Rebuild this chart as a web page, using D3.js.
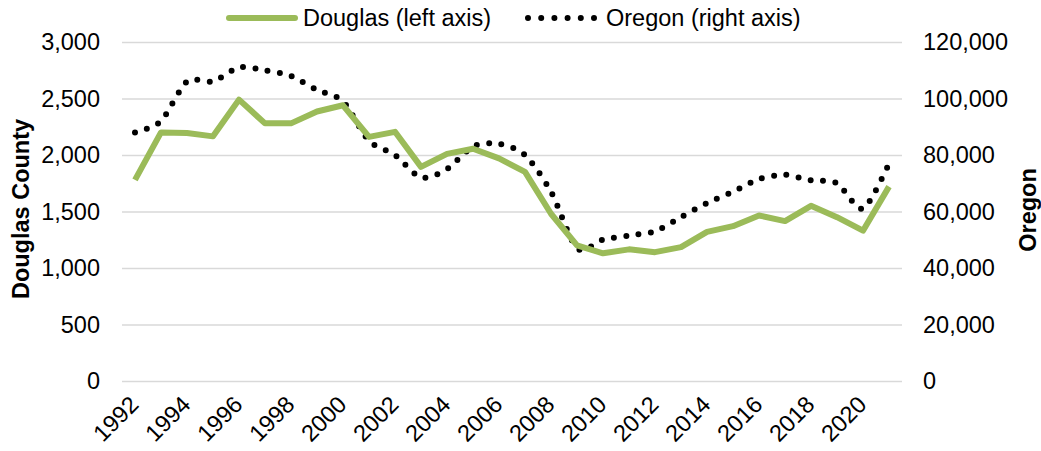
<!DOCTYPE html>
<html>
<head>
<meta charset="utf-8">
<script src="https://cdn.jsdelivr.net/npm/d3@7"></script>
<style>
  body { margin: 0; background: #fff; }
  svg text { font-family: "Liberation Sans", Arial, sans-serif; fill: #000; }
  .axis .domain { display: none; }
</style>
</head>
<body>
<svg id="chart"></svg>
<script>
let years = d3.range(1992, 2022);
let douglas = [1780, 2200, 2195, 2165, 2490, 2280, 2280, 2385, 2440, 2160,
  2205, 1895, 2010, 2055, 1970, 1850, 1480, 1200, 1130, 1165,
  1140, 1185, 1320, 1370, 1465, 1415, 1550, 1450, 1330, 1720];
let oregon = [88000, 92000, 106000, 106000, 111000, 110000, 108000, 103000, 99000, 85000,
  80000, 72000, 75000, 83000, 84000, 80000, 67000, 47000, 50000, 51500,
  53000, 58000, 63000, 67000, 71500, 73000, 71000, 70000, 61000, 77000];
let leftTicks = [0, 500, 1000, 1500, 2000, 2500, 3000];
let rightTicks = [0, 20000, 40000, 60000, 80000, 100000, 120000];
let yearLabels = d3.range(1992, 2022, 2);

let config = {
  svg: { width: 1041, height: 451 },
  plot: { x: 122, y: 42, width: 780, height: 339 },
  font: "23.5px"
};

let svg = d3.select("svg#chart")
  .attr("width", config.svg.width)
  .attr("height", config.svg.height);

let scale = {};
scale.x = d3.scaleBand().domain(years).range([0, config.plot.width]);
scale.yl = d3.scaleLinear().domain([0, 3000]).range([config.plot.height, 0]);
scale.yr = d3.scaleLinear().domain([0, 120000]).range([config.plot.height, 0]);

let cx = d => scale.x(d) + scale.x.bandwidth() / 2;

let plot = svg.append("g")
  .attr("transform", translate(config.plot.x, config.plot.y));

// gridlines
plot.append("g")
  .attr("class", "axis")
  .call(d3.axisLeft(scale.yl).tickValues(leftTicks).tickSize(-config.plot.width).tickFormat(""))
  .selectAll("line")
  .attr("stroke", "#d9d9d9")
  .attr("stroke-width", 1.4);

// left axis labels
let gl = plot.append("g")
  .attr("class", "axis")
  .attr("transform", translate(-22, 0))
  .call(d3.axisLeft(scale.yl).tickValues(leftTicks).tickSize(0).tickPadding(0).tickFormat(d3.format(",")));
gl.selectAll("text").attr("font-size", config.font);

// right axis labels
let gr = plot.append("g")
  .attr("class", "axis")
  .attr("transform", translate(config.plot.width + 21, 0))
  .call(d3.axisRight(scale.yr).tickValues(rightTicks).tickSize(0).tickPadding(0).tickFormat(d3.format(",")));
gr.selectAll("text").attr("font-size", config.font);

// x labels
plot.append("g")
  .selectAll("text")
  .data(yearLabels)
  .enter()
  .append("text")
  .attr("transform", d => translate(cx(d) + 5, config.plot.height + 25) + " rotate(-45)")
  .attr("text-anchor", "end")
  .attr("font-size", config.font)
  .text(d => d);

// lines
let lineL = d3.line()
  .x((d, i) => cx(years[i]))
  .y(d => scale.yl(d));

let lineR = d3.line()
  .x((d, i) => cx(years[i]))
  .y(d => scale.yr(d))
  .curve(d3.curveCardinal.tension(0.2));

plot.append("path")
  .datum(oregon)
  .attr("fill", "none")
  .attr("stroke", "#000")
  .attr("stroke-width", 6)
  .attr("stroke-linecap", "round")
  .attr("stroke-dasharray", "0,12.4")
  .attr("d", lineR);

plot.append("path")
  .datum(douglas)
  .attr("fill", "none")
  .attr("stroke", "#9bbb59")
  .attr("stroke-width", 6)
  .attr("stroke-linejoin", "round")
  .attr("d", lineL);

// axis titles
svg.append("text")
  .text("Douglas County")
  .attr("transform", translate(29, 209) + " rotate(-90)")
  .attr("text-anchor", "middle")
  .attr("font-size", config.font)
  .attr("font-weight", "bold");

svg.append("text")
  .text("Oregon")
  .attr("transform", translate(1036, 210) + " rotate(-90)")
  .attr("text-anchor", "middle")
  .attr("font-size", config.font)
  .attr("font-weight", "bold");

// legend
let legend = svg.append("g").attr("id", "legend");

legend.append("line")
  .attr("x1", 229).attr("x2", 295)
  .attr("y1", 18).attr("y2", 18)
  .attr("stroke", "#9bbb59")
  .attr("stroke-width", 6)
  .attr("stroke-linecap", "round");

legend.append("text")
  .text("Douglas (left axis)")
  .attr("x", 303).attr("y", 26)
  .attr("font-size", config.font);

legend.append("line")
  .attr("x1", 528).attr("x2", 598)
  .attr("y1", 18).attr("y2", 18)
  .attr("stroke", "#000")
  .attr("stroke-width", 6)
  .attr("stroke-linecap", "round")
  .attr("stroke-dasharray", "0,13.2");

legend.append("text")
  .text("Oregon (right axis)")
  .attr("x", 606).attr("y", 26)
  .attr("font-size", config.font);

function translate(x, y) {
  return 'translate(' + x + ',' + y + ')';
}
</script>
</body>
</html>
